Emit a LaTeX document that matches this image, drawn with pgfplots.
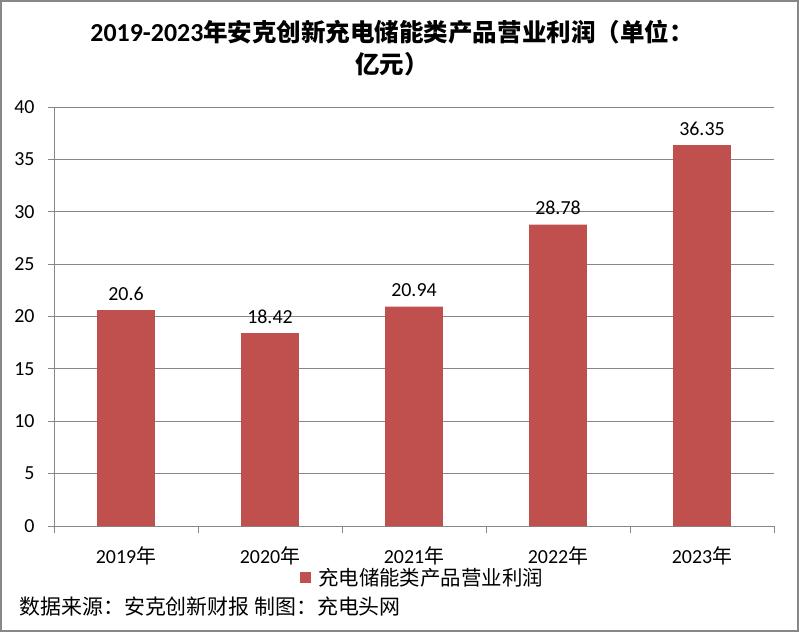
\documentclass[border=0pt]{standalone}
\usepackage{pgfplots}
\pgfplotsset{compat=1.18}
\usepackage{fontspec}
\setmainfont{Carlito}
\newfontfamily\cjk{Noto Sans CJK SC}
\definecolor{barred}{HTML}{C0504D}
\definecolor{axgray}{HTML}{868686}
\definecolor{framegray}{HTML}{878787}

\pgfplotstableread{
x y label
0 20.6  20.6
1 18.42 18.42
2 20.94 20.94
3 28.78 28.78
4 36.35 36.35
}\profit

\begin{document}
\begin{tikzpicture}
\begin{axis}[
    at={(0,0)}, anchor=south west,
    scale only axis, width=720bp, height=419bp,
    xmin=-0.5, xmax=4.5, ymin=0, ymax=40,
    axis x line*=bottom, axis y line*=left,
    axis line style={axgray, line width=0.75bp},
    ytick={0,5,...,40},
    xtick={0,...,4},
    xticklabels={2019{\cjk 年}, 2020{\cjk 年}, 2021{\cjk 年}, 2022{\cjk 年}, 2023{\cjk 年}},
    minor xtick={-0.5,0.5,...,4.5},
    tick align=outside,
    major tick length=6bp, minor tick length=7bp,
    major x tick style={draw=none},
    minor x tick style={axgray, line width=0.75bp},
    ytick style={axgray, line width=0.75bp},
    ymajorgrids, grid style={axgray, line width=0.75bp},
    tick label style={font=\fontsize{20}{24}\selectfont},
    /pgf/number format/assume math mode=true,
    yticklabel style={anchor=east, xshift=-10bp},
    xticklabel style={anchor=center, yshift=-24bp},
    nodes near coords, point meta=explicit symbolic,
    nodes near coords style={font=\fontsize{20}{24}\selectfont, anchor=south, yshift=6bp},
    legend style={at={(0.3417,-0.124)}, anchor=west, draw=none, fill=none,
        inner sep=0pt, font=\cjk\fontsize{20.5}{24}\selectfont},
]
\addplot[ybar, fill=barred, draw=none, bar width=57.6bp,
    legend image code/.code={\fill[barred] (0bp,-5.5bp) rectangle (11bp,5.5bp);}]
    table[x=x, y=y, meta=label] {\profit};
\addlegendentry{\hspace{5bp}充电储能类产品营业利润}
\end{axis}
\node[font=\bfseries\fontsize{26}{30}\selectfont] at (338bp,494bp)
    {2019-2023{\cjk\fontsize{24.6}{30}\selectfont 年安克创新充电储能类产品营业利润（单位：}};
\node[font=\cjk\bfseries\fontsize{24.6}{30}\selectfont] at (338bp,462bp) {亿元）};
\node[anchor=west, font=\cjk\fontsize{21}{24}\selectfont] at (-38bp,-81bp)
    {数据来源：安克创新财报 制图：充电头网};
\draw[framegray, line width=2.5bp] (-52.75bp,-104.75bp) rectangle (743.75bp,524.75bp);
\end{tikzpicture}
\end{document}
